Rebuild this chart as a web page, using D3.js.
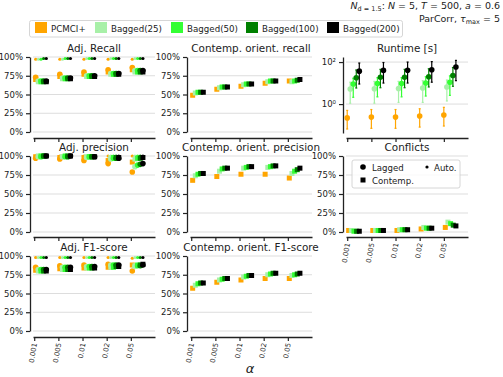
<!DOCTYPE html>
<html><head><meta charset="utf-8">
<script src="https://cdn.jsdelivr.net/npm/d3@7"></script>
<style>body{margin:0;background:#fff} text{font-family:"DejaVu Sans",sans-serif;fill:#222}</style>
</head><body><svg id="c" width="503" height="377"></svg>
<script>
// ---------------- data ----------------
const alphas = ["0.001","0.005","0.01","0.02","0.05"];
const methods = ["PCMCI+","Bagged(25)","Bagged(50)","Bagged(100)","Bagged(200)"];
const methodColors = ["#ffa500","#a8f0a8","#33ff33","#008000","#000000"];
const pctTicks = [0,25,50,75,100];

// values [alpha][method], in %
const adjRecallLagged  = [[73,68,68,68,68],[77,72,72,72,72],[80,75,75,75,75],[83,78,78,78,78],[86,82,82,82,82]];
const adjRecallContemp = [[70,67,67,67,67],[74,71,71,71,71],[77,74,74,74,74],[80,77,77,77,77],[83,80,80,80,80]];
const adjRecallAuto    = [[97,97,97,98,98],[97,97,98,98,98],[97,98,98,98,98],[97,98,98,98,98],[97,98,98,98,98]];

const orientRecall = [[49,52,53,53,53],[57,59,60,60,60],[61,63,64,64,64],[65,67,68,68,68],[68,67,68,69,70]];

const adjPrecLagged  = [[97,99,99,100,100],[96,99,99,99,100],[94,98,99,99,99],[90,96,97,97,97],[79,86,88,89,90]];
const adjPrecContemp = [[99,100,100,100,100],[98,99,100,100,100],[98,99,99,99,99],[94,98,98,98,98],[92,96,97,97,98]];
const adjPrecAuto    = [[100,100,100,100,100],[100,100,100,100,100],[100,100,100,100,100],[100,100,100,100,100],[100,100,100,100,100]];

const orientPrecision = [[68,74,76,77,77],[73,80,83,84,84],[76,84,85,86,86],[76,85,86,87,87],[71,77,80,82,84]];

const adjF1Lagged  = [[85,82,82,82,82],[87,85,85,85,85],[88,86,86,86,86],[89,88,88,88,88],[80,86,87,87,88]];
const adjF1Contemp = [[81,80,80,80,80],[83,82,82,82,82],[84,84,84,84,84],[85,85,85,86,86],[88,87,88,88,89]];
const adjF1Auto    = [[98,98,98,98,98],[98,98,98,98,98],[98,98,98,98,98],[98,98,98,98,98],[97,98,98,98,98]];

const orientF1 = [[57,61,63,64,64],[65,68,69,70,70],[68,72,73,74,74],[70,75,76,77,77],[70,74,75,76,77]];

const conflicts = [[2,2,1,1,1],[2,2,2,2,2],[2,3,3,3,3],[4,6,5,5,5],[6,13,11,9,8]];

// runtime [s]: mean, lower, upper  [alpha][method]
const runtimeMean = [[0.22,5.2,9,18,37],[0.24,5.4,9.5,19,40],[0.24,5.5,9.5,19,41],[0.27,5.8,10,20,43],[0.30,6.5,11,23,58]];
const runtimeLow  = [[0.065,1.1,2.1,5.8,9],[0.07,1.1,2.2,6,10],[0.07,1.2,2.2,6,10],[0.08,1.2,2.4,6.5,11],[0.09,1.4,2.6,7,13]];
const runtimeHigh = [[0.5,11,17,42,90],[0.55,12,18,45,95],[0.55,12,18,45,100],[0.6,13,20,48,105],[0.7,14,22,55,120]];

// ---------------- layout ----------------
const svg = d3.select("#c");
const colLeft = [33,190,346], plotW = 122;
const rowTop = [57,156,256], rowBot = [132,232,331], rowAxis = [138,237,337];

function xScale(col){ return d3.scaleLinear().domain([-0.05,5]).range([colLeft[col], colLeft[col]+plotW]); }

function drawFrame(col,row,title,y,opts){
  const g = svg.append("g");
  const x = xScale(col);
  const left = colLeft[col];
  // grid
  g.selectAll("line.grid").data(opts.grid).join("line")
    .attr("x1",left).attr("x2",left+plotW)
    .attr("y1",d=>y(d)).attr("y2",d=>y(d))
    .attr("stroke","#dddddd").attr("stroke-width",1);
  // y axis
  const ya = d3.axisLeft(y).tickValues(opts.grid).tickFormat(opts.fmt).tickSize(4).tickSizeOuter(0);
  const yg = g.append("g").attr("transform",`translate(${left-3},0)`).call(ya);
  yg.selectAll("text").style("font-size","8.5px").attr("fill","#222");
  yg.select(".domain").attr("stroke","#222").attr("stroke-width",1.3);
  yg.selectAll(".tick line").attr("stroke","#222").attr("stroke-width",1.2);
  // x axis
  const xa = d3.axisBottom(x).tickValues([0,1,2,3,4]).tickSize(4).tickSizeOuter(0)
     .tickFormat(opts.labels ? (d=>alphas[d]) : "");
  const xg = g.append("g").attr("transform",`translate(0,${rowAxis[row]})`).call(xa);
  xg.select(".domain").attr("stroke","#222").attr("stroke-width",1.3);
  xg.selectAll(".tick line").attr("stroke","#222").attr("stroke-width",1.2);
  if(opts.labels){
    xg.selectAll(".tick text").attr("transform","translate(0,6) rotate(-80)")
      .attr("text-anchor","end").attr("x",0).attr("y",0).attr("dy","0.35em")
      .style("font-size","7px").attr("fill","#222");
  }
  // title
  svg.append("text").attr("x",left+plotW/2).attr("y",rowTop[row]-5)
    .attr("text-anchor","middle").style("font-size","10.4px").text(title);
  return x;
}

function pctY(row){ return d3.scaleLinear().domain([0,100]).range([rowBot[row],rowTop[row]]); }

function drawMarkers(x,y,series){
  const g = svg.append("g");
  for(let i=0;i<5;i++){
    for(let j=0;j<5;j++){
      const cx = x(i + 0.06 + j*0.11);
      const c = methodColors[j];
      if(series.lagged){
        g.append("circle").attr("cx",cx).attr("cy",y(series.lagged[i][j])).attr("r",2.8).attr("fill",c);
      }
      if(series.contemp){
        g.append("rect").attr("x",cx-2.5).attr("y",y(series.contemp[i][j])-2.5).attr("width",5).attr("height",5).attr("fill",c);
      }
      if(series.auto){
        g.append("circle").attr("cx",cx).attr("cy",y(series.auto[i][j])).attr("r",1.6).attr("fill",c);
      }
    }
  }
}

const pctFmt = d=>d+"%";

// Row 1
let y = pctY(0);
let x = drawFrame(0,0,"Adj. Recall",y,{grid:pctTicks,fmt:pctFmt,labels:false});
drawMarkers(x,y,{lagged:adjRecallLagged,contemp:adjRecallContemp,auto:adjRecallAuto});
x = drawFrame(1,0,"Contemp. orient. recall",y,{grid:pctTicks,fmt:pctFmt,labels:false});
drawMarkers(x,y,{contemp:orientRecall});

// Runtime
const yr = d3.scaleLog().domain([0.042,174]).range([133,57]);
x = drawFrame(2,0,"Runtime [s]",yr,{grid:[1,100],fmt:d=>(d===1?"10⁰":"10²"),labels:false});
{
  const g = svg.append("g");
  for(let i=0;i<5;i++){
    for(let j=0;j<5;j++){
      const cx = x(i + j*0.125);
      const c = methodColors[j];
      g.append("line").attr("x1",cx).attr("x2",cx)
        .attr("y1",yr(runtimeLow[i][j])).attr("y2",yr(runtimeHigh[i][j]))
        .attr("stroke",c).attr("stroke-width",1.2);
      [runtimeLow[i][j],runtimeHigh[i][j]].forEach(v=>{
        g.append("line").attr("x1",cx-1).attr("x2",cx+1).attr("y1",yr(v)).attr("y2",yr(v))
          .attr("stroke",c).attr("stroke-width",1.2);
      });
      g.append("circle").attr("cx",cx).attr("cy",yr(runtimeMean[i][j])).attr("r",2.8).attr("fill",c);
    }
  }
}

// Row 2
y = pctY(1);
x = drawFrame(0,1,"Adj. precision",y,{grid:pctTicks,fmt:pctFmt,labels:false});
drawMarkers(x,y,{lagged:adjPrecLagged,contemp:adjPrecContemp,auto:adjPrecAuto});
x = drawFrame(1,1,"Contemp. orient. precision",y,{grid:pctTicks,fmt:pctFmt,labels:false});
drawMarkers(x,y,{contemp:orientPrecision});
x = drawFrame(2,1,"Conflicts",y,{grid:pctTicks,fmt:pctFmt,labels:true});
drawMarkers(x,y,{contemp:conflicts});

// Row 3
y = pctY(2);
x = drawFrame(0,2,"Adj. F1-score",y,{grid:pctTicks,fmt:pctFmt,labels:true});
drawMarkers(x,y,{lagged:adjF1Lagged,contemp:adjF1Contemp,auto:adjF1Auto});
x = drawFrame(1,2,"Contemp. orient. F1-score",y,{grid:pctTicks,fmt:pctFmt,labels:true});
drawMarkers(x,y,{contemp:orientF1});

// alpha label
svg.append("text").attr("x",250).attr("y",373).attr("text-anchor","middle")
  .style("font-size","13px").style("font-style","italic").text("α");

// Conflicts legend
{
  const g = svg.append("g");
  g.append("rect").attr("x",352).attr("y",160).attr("width",108).attr("height",28).attr("rx",2)
    .attr("fill","#fff").attr("fill-opacity",0.8).attr("stroke","#cccccc").attr("stroke-width",0.8);
  g.append("circle").attr("cx",363).attr("cy",167).attr("r",2.8).attr("fill","#000");
  g.append("text").attr("x",372).attr("y",170.5).style("font-size","8.6px").text("Lagged");
  g.append("circle").attr("cx",427).attr("cy",167).attr("r",1.6).attr("fill","#000");
  g.append("text").attr("x",434).attr("y",170.5).style("font-size","8.6px").text("Auto.");
  g.append("rect").attr("x",360.5).attr("y",177.5).attr("width",5).attr("height",5).attr("fill","#000");
  g.append("text").attr("x",372).attr("y",183.5).style("font-size","8.6px").text("Contemp.");
}

// Top legend
{
  const g = svg.append("g");
  g.append("rect").attr("x",29.5).attr("y",20.5).attr("width",373).attr("height",16.5).attr("rx",2)
    .attr("fill","#fff").attr("stroke","#cccccc").attr("stroke-width",0.8);
  const sx = [35,95,171,246,327];
  methods.forEach((m,j)=>{
    g.append("rect").attr("x",sx[j]).attr("y",22).attr("width",12).attr("height",11).attr("fill",methodColors[j]);
    g.append("text").attr("x",sx[j]+16).attr("y",31.5).style("font-size","8.7px").text(m);
  });
}

// Top-right annotation
{
  const t1 = svg.append("text").attr("x",500).attr("y",9).attr("text-anchor","end").style("font-size","9.5px");
  t1.append("tspan").style("font-style","italic").text("N");
  t1.append("tspan").attr("dy",2).style("font-size","6.5px").text("d = 1.5");
  t1.append("tspan").attr("dy",-2).text(": ");
  t1.append("tspan").style("font-style","italic").text("N");
  t1.append("tspan").text(" = 5, ");
  t1.append("tspan").style("font-style","italic").text("T");
  t1.append("tspan").text(" = 500, ");
  t1.append("tspan").style("font-style","italic").text("a");
  t1.append("tspan").text(" = 0.6");
  const t2 = svg.append("text").attr("x",500).attr("y",22).attr("text-anchor","end").style("font-size","9.5px");
  t2.append("tspan").text("ParCorr, ");
  t2.append("tspan").style("font-style","italic").text("τ");
  t2.append("tspan").attr("dy",2).style("font-size","6.5px").text("max");
  t2.append("tspan").attr("dy",-2).text(" = 5");
}
</script></body></html>
